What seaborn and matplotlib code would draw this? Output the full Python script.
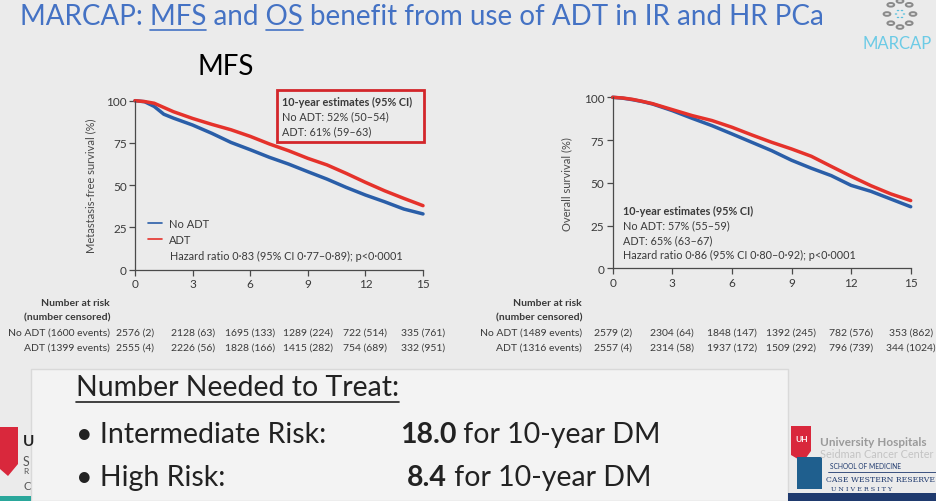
import numpy as np
import pandas as pd
import matplotlib
matplotlib.use("Agg")
import matplotlib.pyplot as plt
import matplotlib.transforms as mtransforms
from matplotlib.patches import Rectangle, Circle, Polygon
from matplotlib.lines import Line2D
import seaborn as sns

# survival curves (years, %)
years = [0, 0.5, 1, 1.5, 2, 3, 4, 5, 6, 7, 8, 9, 10, 11, 12, 13, 14, 15]
mfs_no_adt = [100, 99.4, 96.6, 92.0, 89.7, 85.6, 80.7, 75.3, 71.0, 66.5, 62.5, 58.0, 53.6, 48.7, 44.2, 40.2, 35.9, 33.0]
mfs_adt = [100, 99.5, 98.5, 96.0, 93.5, 89.5, 86.0, 82.8, 78.9, 74.4, 70.4, 65.9, 62.0, 57.0, 51.7, 46.7, 42.2, 37.9]
os_no_adt = [100, 99.5, 98.6, 97.5, 96.1, 92.2, 87.7, 83.4, 78.6, 73.7, 68.8, 63.2, 58.5, 54.2, 48.5, 45.0, 40.5, 36.0]
os_adt = [100, 99.6, 98.8, 97.6, 96.3, 92.8, 89.3, 86.4, 82.5, 78.0, 73.7, 69.8, 65.5, 59.6, 53.8, 48.3, 43.5, 39.6]
groups = ["No ADT", "ADT"]

# number at risk (number censored)
risk_years = [0, 3, 6, 9, 12, 15]
mfs_risk_no_adt = ["2576 (2)", "2128 (63)", "1695 (133)", "1289 (224)", "722 (514)", "335 (761)"]
mfs_risk_adt = ["2555 (4)", "2226 (56)", "1828 (166)", "1415 (282)", "754 (689)", "332 (951)"]
os_risk_no_adt = ["2579 (2)", "2304 (64)", "1848 (147)", "1392 (245)", "782 (576)", "353 (862)"]
os_risk_adt = ["2557 (4)", "2314 (58)", "1937 (172)", "1509 (292)", "796 (739)", "344 (1024)"]

sns.set_theme(style="white")
FONT = ["Lato", "DejaVu Sans"]
plt.rcParams["font.family"] = FONT

BG = "#ebebeb"
BLUE = "#2a5ea8"
RED = "#e5322b"
AXC = "#4a4a4a"
TXT = "#3a3a3a"
W, H = 936, 502


def fx(x):
    return x / W


def fy(y):
    return 1 - y / H


fig = plt.figure(figsize=(W / 100, H / 100), dpi=100, facecolor=BG)
renderer = fig.canvas.get_renderer()


def text_width(s, **kw):
    t = fig.text(0, 0, s, **kw)
    w = t.get_window_extent(renderer).width
    t.remove()
    return w


def hline(x0, x1, y, color, lw=1.0):
    fig.add_artist(Line2D([fx(x0), fx(x1)], [fy(y), fy(y)], color=color, lw=lw,
                          transform=fig.transFigure))


# ---- title
title_kw = dict(fontsize=20, color="#4472c4")
title = "MARCAP: MFS and OS benefit from use of ADT in IR and HR PCa"
fig.text(fx(20), fy(17), title, va="center", **title_kw)
for pre, word in [("MARCAP: ", "MFS"), ("MARCAP: MFS and ", "OS")]:
    end = 20 + text_width(pre + word, **title_kw)
    start = end - text_width(word, **title_kw)
    hline(start, end, 31, "#4472c4", 1.2)

# MARCAP logo (top right)
for a in np.linspace(0, 2 * np.pi, 8, endpoint=False):
    fig.add_artist(Circle((fx(900 + 13 * np.cos(a)), fy(15 + 13 * np.sin(a))), 3.4 / W,
                          fill=False, ec="#8a8a8a", lw=1.4, transform=fig.transFigure))
for a in np.linspace(0, 2 * np.pi, 6, endpoint=False):
    fig.add_artist(Circle((fx(900 + 4 * np.cos(a)), fy(15 + 4 * np.sin(a))), 1.3 / W,
                          fc="#5bc0de", ec="none", transform=fig.transFigure))
fig.text(fx(862), fy(44), "MARCAP", fontsize=12, color="#6ccbe6", va="center")

fig.text(fx(197), fy(67), "MFS", fontsize=20, color="black", va="center")

# ---- curves
ax1 = fig.add_axes([fx(135), fy(270.7), 288 / W, 169 / H])
ax2 = fig.add_axes([fx(612.7), fy(269.3), 298 / W, 171 / H])

for ax, no_adt, adt, ylabel in [(ax1, mfs_no_adt, mfs_adt, "Metastasis-free survival (%)"),
                                (ax2, os_no_adt, os_adt, "Overall survival (%)")]:
    df = pd.DataFrame({
        "year": years + years,
        "survival": no_adt + adt,
        "group": [groups[0]] * len(years) + [groups[1]] * len(years),
    })
    sns.lineplot(data=df, x="year", y="survival", hue="group", hue_order=groups,
                 palette=[BLUE, RED], linewidth=2.5, errorbar=None, ax=ax,
                 legend=(ax is ax1))
    for ln in ax.lines:
        ln.set_clip_on(False)
    ax.set_facecolor("none")
    ax.set_xlim(0, 15)
    ax.set_ylim(0, 100)
    ax.set_xticks([0, 3, 6, 9, 12, 15])
    ax.set_yticks([0, 25, 50, 75, 100])
    ax.set_xlabel("")
    ax.set_ylabel(ylabel, fontsize=8, color=AXC)
    ax.yaxis.set_label_coords(-0.135, 0.5)
    for side in ["top", "right"]:
        ax.spines[side].set_visible(False)
    for side in ["left", "bottom"]:
        ax.spines[side].set_color(AXC)
        ax.spines[side].set_linewidth(0.9)
    ax.tick_params(direction="out", length=4, width=0.9, color=AXC, labelcolor=TXT,
                   labelsize=8.5, pad=2, bottom=True, left=True)

handles, labels = ax1.get_legend_handles_labels()
leg = ax1.legend(handles, labels, loc="upper left", bbox_to_anchor=(0.045, 0.305), frameon=False,
                 fontsize=8, handlelength=1.3, handletextpad=0.55, labelspacing=0.45,
                 borderpad=0, borderaxespad=0)
for t in leg.get_texts():
    t.set_color(TXT)
for h in leg.get_lines():
    h.set_linewidth(1.2)

small = dict(fontsize=7.8, color=TXT, va="center")
fig.text(fx(170), fy(256), "Hazard ratio 0·83 (95% CI 0·77–0·89); p<0·0001", **small)

# red highlight box with 10-year estimates
fig.add_artist(Rectangle((fx(277), fy(143)), 147 / W, 52 / H, fill=False, ec="#d3262b",
                         lw=2, transform=fig.transFigure))
fig.text(fx(282), fy(102), "10-year estimates (95% CI)", fontweight="bold", **small)
fig.text(fx(282), fy(117), "No ADT: 52% (50–54)", **small)
fig.text(fx(282), fy(132), "ADT: 61% (59–63)", **small)

fig.text(fx(623), fy(211), "10-year estimates (95% CI)", fontweight="bold", **small)
fig.text(fx(623), fy(226), "No ADT: 57% (55–59)", **small)
fig.text(fx(623), fy(241), "ADT: 65% (63–67)", **small)
fig.text(fx(623), fy(255), "Hazard ratio 0·86 (95% CI 0·80–0·92); p<0·0001", **small)

# ---- number at risk tables
tab = dict(small, fontsize=7.5)
for ax, xr, ev, r_no, r_adt in [(ax1, 110, ("1600", "1399"), mfs_risk_no_adt, mfs_risk_adt),
                                (ax2, 582, ("1489", "1316"), os_risk_no_adt, os_risk_adt)]:
    fig.text(fx(xr), fy(303), "Number at risk", ha="right", fontweight="bold", **tab)
    fig.text(fx(xr), fy(318), "(number censored)", ha="right", fontweight="bold", **tab)
    fig.text(fx(xr), fy(333), f"No ADT ({ev[0]} events)", ha="right", **tab)
    fig.text(fx(xr), fy(348), f"ADT ({ev[1]} events)", ha="right", **tab)
    trans = mtransforms.blended_transform_factory(ax.transData, fig.transFigure)
    for yr, a, b in zip(risk_years, r_no, r_adt):
        ax.text(yr, fy(333), a, ha="center", transform=trans, clip_on=False, **tab)
        ax.text(yr, fy(348), b, ha="center", transform=trans, clip_on=False, **tab)

# ---- bottom box: number needed to treat
fig.add_artist(Rectangle((fx(31), 0), (788 - 31) / W, (H - 370) / H, fc="#f3f3f3",
                         ec="#d9d9d9", lw=1, transform=fig.transFigure))
big = dict(fontsize=20.5, color="#222222", va="center")
fig.text(fx(76), fy(388), "Number Needed to Treat:", **big)
hline(76, 76 + text_width("Number Needed to Treat:", **big), 403, "#222222", 1.2)
fig.text(fx(76), fy(435), "• Intermediate Risk:", **big)
fig.text(fx(76), fy(478), "• High Risk:", **big)
for x0, num, yy in [(400, "18.0", 435), (407, "8.4", 478)]:
    fig.text(fx(x0), fy(yy), num, fontweight="bold", **big)
    wn = text_width(num, fontweight="bold", **big)
    fig.text(fx(x0 + wn), fy(yy), " for 10-year DM", **big)

# ---- institution logos (bottom corners)
fig.add_artist(Rectangle((0, 0), fx(31), 5 / H, fc="#2aa79b", ec="none", transform=fig.transFigure))
fig.add_artist(Rectangle((fx(788), 0), (W - 788) / W, 8 / H, fc="#1f3a6e", ec="none",
                         transform=fig.transFigure))
fig.add_artist(Polygon([(fx(0), fy(428)), (fx(18), fy(428)), (fx(18), fy(465)), (fx(8), fy(477)),
                        (fx(0), fy(470))], fc="#d9283c", ec="none", transform=fig.transFigure))
fig.text(fx(23), fy(442), "U", fontsize=11, color="#222222", va="center", fontweight="bold")
fig.text(fx(23), fy(462), "S", fontsize=9, color="#555555", va="center")
fig.text(fx(23), fy(472), "R", fontsize=6, color="#555555", va="center")
fig.text(fx(23), fy(487), "C", fontsize=8, color="#555555", va="center")

fig.add_artist(Polygon([(fx(791), fy(427)), (fx(811), fy(427)), (fx(811), fy(452)), (fx(803), fy(463)),
                        (fx(791), fy(456))], fc="#d9283c", ec="none", transform=fig.transFigure))
fig.text(fx(795), fy(440), "UH", fontsize=6, color="white", va="center", fontweight="bold")
fig.add_artist(Rectangle((fx(797), fy(490)), 25 / W, 32 / H, fc="#1f5f8e", ec="none",
                         transform=fig.transFigure))
fig.text(fx(820), fy(443), "University Hospitals", fontsize=8.5, color="#9a9a9a",
         fontweight="bold", va="center")
fig.text(fx(820), fy(455), "Seidman Cancer Center", fontsize=7.8, color="#c4c4c4", va="center")
fig.text(fx(830), fy(467), "SCHOOL OF MEDICINE", fontsize=4.8, color="#1f3a6e", va="center")
hline(828, 936, 473, "#1f3a6e", 0.6)
fig.text(fx(826), fy(480), "CASE WESTERN RESERVE", fontsize=5.6, color="#1f3a6e", va="center",
         family="DejaVu Serif")
fig.text(fx(831), fy(490), "U N I V E R S I T Y", fontsize=4.6, color="#1f3a6e", va="center",
         family="DejaVu Serif")

fig.savefig("out.png", dpi=100, facecolor=BG)
